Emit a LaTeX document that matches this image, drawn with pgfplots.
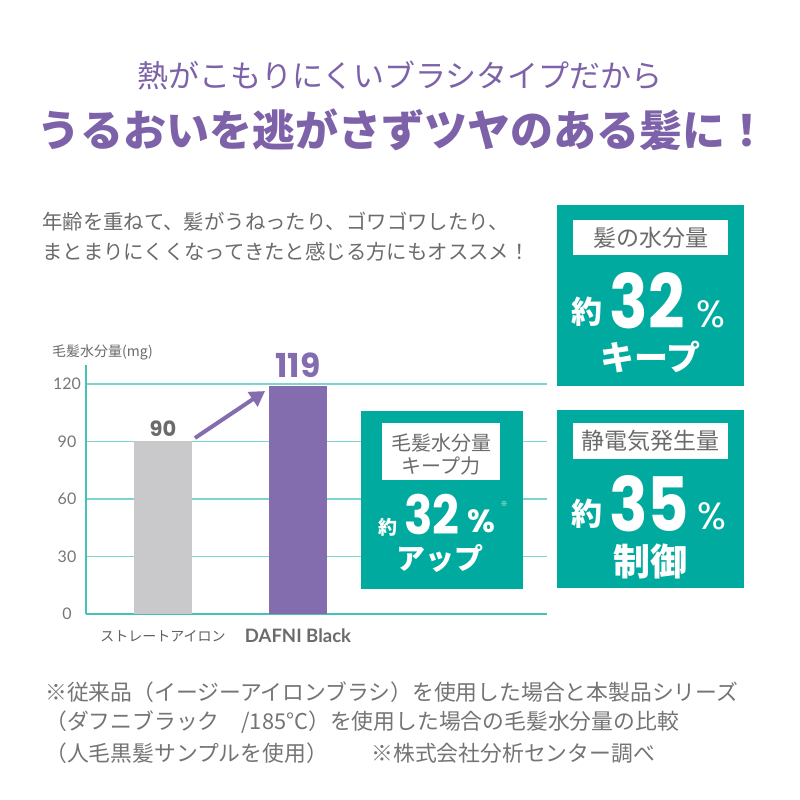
\documentclass[border=0pt]{standalone}
\usepackage{fontspec}
\usepackage{pgfplots}
\pgfplotsset{compat=1.18}
\usetikzlibrary{arrows.meta}
\setmainfont{Noto Sans CJK JP}
\newfontfamily\pop{Poppins}
\newfontfamily\lato{Lato}
\definecolor{ttl}{HTML}{7D62A9}
\definecolor{barpur}{HTML}{846DAE}
\definecolor{bargray}{HTML}{C9C9CB}
\definecolor{txt}{HTML}{6B6B6B}
\definecolor{foot}{HTML}{747474}
\definecolor{tick}{HTML}{777777}
\definecolor{teal}{HTML}{00AA9E}
\definecolor{gridt}{HTML}{7DD6CE}
\definecolor{axt}{HTML}{45C1B6}
\newcommand\fs[1]{\fontsize{#1}{#1}\selectfont}
\begin{document}
\begin{tikzpicture}[x=1pt,y=1pt]
\fill[white] (0,0) rectangle (800,800);
% titles
\node[inner sep=0, text=ttl] at (400,725) {\fs{31}熱がこもりにくいブラシタイプだから};
\node[inner sep=0, text=ttl] at (403,670) {\fs{43}\bfseries うるおいを逃がさずツヤのある髪に！};
% intro
\node[inner sep=0, anchor=west, text=txt] at (42,578) {\fs{20.4}年齢を重ねて、髪がうねったり、ゴワゴワしたり、};
\node[inner sep=0, anchor=west, text=txt] at (42,548) {\fs{20.4}まとまりにくくなってきたと感じる方にもオススメ！};
% y title
\node[inner sep=0, anchor=west, text=txt] at (52,448) {\fs{14}毛髪水分量(mg)};
\begin{axis}[
  at={(86pt,186pt)}, anchor=south west,
  scale only axis, width=461pt, height=249.2pt,
  xmin=-0.570, xmax=2.844, ymin=0, ymax=130,
  axis lines=left,
  axis line style={-, draw=axt, line width=1.2pt},
  ytick={0,30,60,90,120},
  ymajorgrids, grid style={gridt, line width=1.2pt},
  major tick length=0pt,
  xtick={0,1},
  xticklabels={{\fs{14}\color{txt!90!black}ストレートアイロン},{\lato\bfseries\fs{18.5}\color{txt}DAFNI Black}},
  xticklabel style={anchor=center, yshift=-22pt},
  yticklabel style={anchor=center, xshift=-19pt, font=\lato\fs{16}, text=tick},
  /pgf/number format/assume math mode=true,
  clip=false,
]
\addplot[ybar, bar width=58pt, bar shift=0pt, fill=bargray, draw=none,
  point meta=y, nodes near coords,
  nodes near coords style={font=\pop\bfseries\fs{21}, text=txt, anchor=south, inner sep=0pt, yshift=5pt}]
  coordinates {(0,90)};
\addplot[ybar, bar width=58pt, bar shift=0pt, fill=barpur, draw=none,
  point meta=y, nodes near coords,
  nodes near coords style={font=\pop\bfseries\fs{33}, text=barpur, anchor=south, inner sep=0pt, yshift=8pt}]
  coordinates {(1,119)};
\draw[barpur, line width=4pt, -{Triangle[length=15pt,width=17pt]}] (axis cs:0.237,91.8) -- (axis cs:0.756,116.3);
\end{axis}
% box 1
\fill[teal] (361,211) rectangle (523,389);
\fill[white] (382,320) rectangle (500,377);
\node[inner sep=0, text=txt] at (441,357) {\fs{20}毛髪水分量};
\node[inner sep=0, text=txt] at (441,334) {\fs{20}キープ力};
\node[inner sep=0, text=white] at (388,273) {\fs{19}\bfseries 約};
\node[inner sep=0, text=white, xscale=0.87] at (432,286) {\pop\bfseries\fs{54}32};
\node[inner sep=0, text=white] at (481,279) {\pop\bfseries\fs{32}\%};
\node[inner sep=0, text=white] at (504,296) {\fs{7}※};
\node[inner sep=0, text=white] at (440,242) {\fs{29}\bfseries アップ};
% box 2
\fill[teal] (557,414) rectangle (744,595);
\fill[white] (573,545) rectangle (728,580);
\node[inner sep=0, text=txt] at (650.5,562) {\fs{23}髪の水分量};
\node[inner sep=0, text=white] at (587,488) {\fs{31}\bfseries 約};
\node[inner sep=0, text=white, xscale=0.85] at (647,499) {\pop\bfseries\fs{75}32};
\node[inner sep=0, text=white] at (711,486) {\pop\fs{38}\%};
\node[inner sep=0, text=white] at (650,443) {\fs{34}\bfseries キープ};
% box 3
\fill[teal] (557,212) rectangle (744,390);
\fill[white] (573,341) rectangle (728,377);
\node[inner sep=0, text=txt] at (650.5,359) {\fs{23}静電気発生量};
\node[inner sep=0, text=white] at (587,286) {\fs{31}\bfseries 約};
\node[inner sep=0, text=white, xscale=0.85] at (649,296) {\pop\bfseries\fs{75}35};
\node[inner sep=0, text=white] at (712,284) {\pop\fs{38}\%};
\node[inner sep=0, text=white] at (650,239) {\fs{37}\bfseries 制御};
% footnotes
\node[inner sep=0, anchor=west, text=foot] at (45,108) {\fs{21.8}※従来品（イージーアイロンブラシ）を使用した場合と本製品シリーズ};
\node[inner sep=0, anchor=west, text=foot] at (45,78) {\fs{21.8}（ダフニブラック　/185°C）を使用した場合の毛髪水分量の比較};
\node[inner sep=0, anchor=west, text=foot] at (45,47) {\fs{21.8}（人毛黒髪サンプルを使用）　　※株式会社分析センター調べ};
\end{tikzpicture}
\end{document}
